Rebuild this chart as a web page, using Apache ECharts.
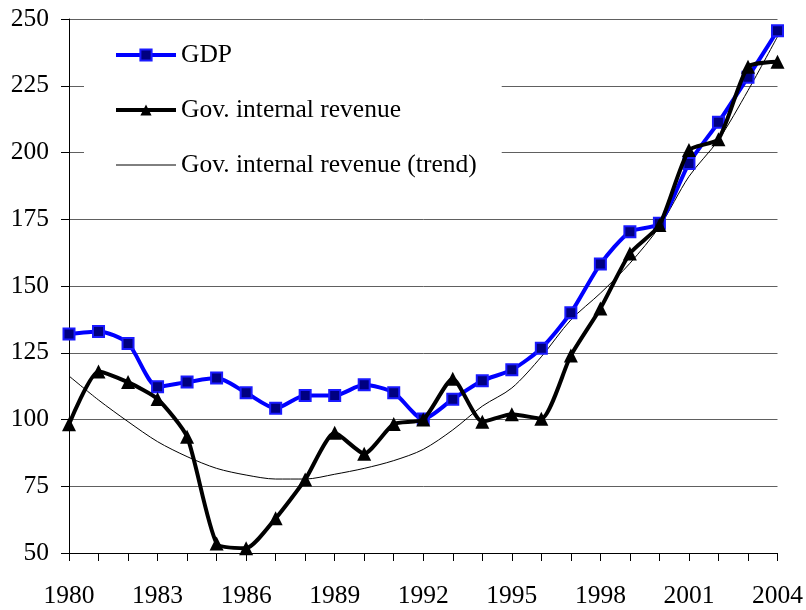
<!DOCTYPE html>
<html>
<head>
<meta charset="utf-8">
<script src="https://cdn.jsdelivr.net/npm/echarts@6/dist/echarts.min.js"></script>
<style>html,body{margin:0;padding:0;background:#fff}#c{width:806px;height:610px}</style>
</head>
<body>
<div id="c"></div>
<script>
const years = ['1980','1981','1982','1983','1984','1985','1986','1987','1988','1989','1990','1991','1992','1993','1994','1995','1996','1997','1998','1999','2000','2001','2002','2003','2004'];
const gdp = [132, 133, 128.5, 112.3, 114, 115.5, 110, 104.2, 109, 109, 113, 110, 100.2, 107.6, 114.5, 118.6, 126.7, 140, 158.2, 170.3, 173.5, 195.9, 211.3, 228.2, 245.6];
const revenue = [98.2, 118, 114, 107.7, 93.5, 53.6, 51.8, 63, 77.5, 95, 87.2, 98.3, 100, 115.3, 99.2, 102, 100.3, 124, 141.6, 162.2, 172.8, 200.9, 205, 232.1, 234];
const revenueTrend = [116.3, 107.3, 99.2, 91.7, 86.1, 81.7, 79.2, 77.7, 77.7, 79.5, 81.7, 84.6, 88.8, 96.1, 105, 111.8, 123.5, 137.3, 147.3, 158.5, 172.2, 191, 204.7, 223.2, 243.4];
const yTicks = {min: 50, max: 250, interval: 25};

const font = "Liberation Serif, Times New Roman, serif";
const chart = echarts.init(document.getElementById('c'), null, {renderer: 'canvas'});
chart.setOption({
  animation: false,
  backgroundColor: '#fff',
  textStyle: {fontFamily: font},
  grid: {left: 69, right: 28, top: 19, bottom: 57, containLabel: false},
  legend: {
    orient: 'vertical', left: 84, top: 30,
    padding: [12, 25, 12, 30],
    backgroundColor: '#fff',
    itemWidth: 60, itemHeight: 14, itemGap: 29,
    textStyle: {fontFamily: font, fontSize: 25.5, color: '#000'},
    data: [
      {name: 'GDP', lineStyle: {color: '#0000ff', width: 4},
        itemStyle: {color: '#000080', borderColor: '#1a1aff', borderWidth: 2}},
      {name: 'Gov. internal revenue', lineStyle: {color: '#000', width: 4},
        itemStyle: {color: '#000', borderWidth: 0}},
      {name: 'Gov. internal revenue (trend)', lineStyle: {color: '#000', width: 1},
        itemStyle: {color: 'rgba(0,0,0,0)', borderWidth: 0, opacity: 0}}
    ]
  },
  xAxis: {
    type: 'category', data: years, boundaryGap: false,
    axisLine: {lineStyle: {color: '#000', width: 1}},
    axisTick: {show: true, interval: 0, length: 8, inside: false, lineStyle: {color: '#000'}},
    axisLabel: {interval: 2, margin: 30, fontFamily: font, fontSize: 25.5, color: '#000'},
    splitLine: {show: false}
  },
  yAxis: {
    type: 'value', min: yTicks.min, max: yTicks.max, interval: yTicks.interval,
    axisLine: {show: true, lineStyle: {color: '#000', width: 1}},
    axisTick: {show: true, length: 8, lineStyle: {color: '#000'}},
    axisLabel: {margin: 20, fontFamily: font, fontSize: 25.5, color: '#000'},
    splitLine: {show: true, lineStyle: {color: '#606060', width: 1}}
  },
  series: [
    {
      name: 'GDP', type: 'line', data: gdp, smooth: 0.25,
      symbol: 'rect', symbolSize: 11,
      lineStyle: {color: '#0000ff', width: 4},
      itemStyle: {color: '#000080', borderColor: '#1a1aff', borderWidth: 2},
      z: 3
    },
    {
      name: 'Gov. internal revenue', type: 'line', data: revenue, smooth: 0.2,
      symbol: 'triangle', symbolSize: 14,
      lineStyle: {color: '#000', width: 4},
      itemStyle: {color: '#000', borderColor: '#000', borderWidth: 0},
      z: 4
    },
    {
      name: 'Gov. internal revenue (trend)', type: 'line', data: revenueTrend, smooth: 0.3,
      symbol: 'none', showSymbol: false,
      lineStyle: {color: '#000', width: 1},
      itemStyle: {color: '#000'},
      z: 2
    }
  ]
});
</script>
</body>
</html>
